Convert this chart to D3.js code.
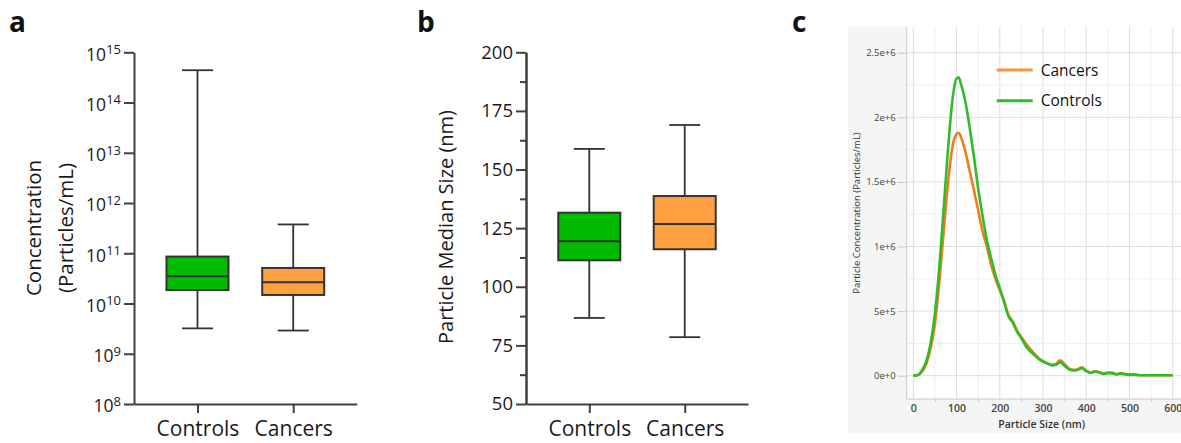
<!DOCTYPE html>
<html>
<head>
<meta charset="utf-8">
<script src="https://cdn.jsdelivr.net/npm/d3@7"></script>
<style>
  body { margin: 0; background: #fff; }
  svg { display: block; font-family: "Open Sans", sans-serif; }
</style>
</head>
<body>
<svg id="chart" width="1181" height="443"></svg>
<script>
// box plot data (a, b)
const groups = ["Controls", "Cancers"];
const concMin = [3.2e9, 2.9e9];
const concQ1 = [1.85e10, 1.48e10];
const concMed = [3.5e10, 2.65e10];
const concQ3 = [8.6e10, 5.1e10];
const concMax = [4.4e14, 3.75e11];
const concTicks = [1e8, 1e9, 1e10, 1e11, 1e12, 1e13, 1e14, 1e15];

const sizeMin = [86.7, 78.5];
const sizeQ1 = [111.3, 116];
const sizeMed = [119.4, 126.8];
const sizeQ3 = [131.6, 138.7];
const sizeMax = [158.8, 169];
const sizeTicks = [50, 75, 100, 125, 150, 175, 200];

// size distribution (c), concentration in millions of particles/mL
const nm = [0, 10, 20, 30, 40, 50, 60, 70, 80, 90, 100, 105, 110, 120, 130, 140, 150, 160, 170, 180,
  190, 200, 210, 220, 230, 240, 250, 260, 270, 280, 290, 300, 310, 320, 330, 340, 350, 360, 370, 380,
  390, 400, 410, 420, 430, 440, 450, 460, 470, 480, 490, 500, 510, 520, 550, 600];
const controlsDist = [0, 0.005, 0.04, 0.11, 0.25, 0.48, 0.83, 1.28, 1.74, 2.12, 2.30, 2.31, 2.26, 2.13, 1.93, 1.70, 1.45, 1.24, 1.05, 0.91,
  0.78, 0.68, 0.57, 0.46, 0.41, 0.34, 0.29, 0.23, 0.19, 0.16, 0.13, 0.11, 0.095, 0.08, 0.085, 0.105, 0.075, 0.05, 0.04, 0.045,
  0.058, 0.035, 0.022, 0.032, 0.025, 0.014, 0.02, 0.02, 0.01, 0.016, 0.01, 0.006, 0.006, 0.004, 0.003, 0.003];
const cancersDist = [0, 0.004, 0.03, 0.09, 0.21, 0.40, 0.72, 1.10, 1.48, 1.76, 1.87, 1.88, 1.85, 1.74, 1.59, 1.44, 1.28, 1.12, 1.00, 0.86,
  0.75, 0.66, 0.58, 0.47, 0.42, 0.35, 0.30, 0.25, 0.21, 0.17, 0.135, 0.11, 0.095, 0.085, 0.09, 0.12, 0.09, 0.055, 0.045, 0.05,
  0.065, 0.04, 0.025, 0.035, 0.028, 0.016, 0.025, 0.022, 0.012, 0.02, 0.013, 0.01, 0.012, 0.005, 0.003, 0.003];
const nmTicks = [0, 100, 200, 300, 400, 500, 600];
const distTicks = [0, 0.5, 1, 1.5, 2, 2.5];
const distTickLabels = ["0e+0", "5e+5", "1e+6", "1.5e+6", "2e+6", "2.5e+6"];

const boxFill = ["#00bb00", "#ffa040"];
const axisColor = "#404040";

let svg = d3.select("#chart");

function styleAxis(g) {
    g.select(".domain").attr("stroke", axisColor).attr("stroke-width", 2);
    g.selectAll(".tick line").attr("stroke", axisColor).attr("stroke-width", 2);
    g.selectAll(".tick text").attr("fill", "#1a1a1a").attr("font-family", "Open Sans");
}

function drawBoxes(x, y, mins, q1s, meds, q3s, maxs) {
    let g = svg.append("g");
    groups.forEach((name, i) => {
        let cx = x(name);
        g.append("line")
            .attr("x1", cx).attr("x2", cx)
            .attr("y1", y(mins[i])).attr("y2", y(maxs[i]))
            .attr("stroke", "#333").attr("stroke-width", 1.8);
        [mins[i], maxs[i]].forEach(v => {
            g.append("line")
                .attr("x1", cx - 15.5).attr("x2", cx + 15.5)
                .attr("y1", y(v)).attr("y2", y(v))
                .attr("stroke", "#333").attr("stroke-width", 1.8);
        });
        g.append("rect")
            .attr("x", cx - 31).attr("width", 62)
            .attr("y", y(q3s[i])).attr("height", y(q1s[i]) - y(q3s[i]))
            .attr("fill", boxFill[i])
            .attr("stroke", "#333").attr("stroke-width", 2);
        g.append("line")
            .attr("x1", cx - 31).attr("x2", cx + 31)
            .attr("y1", y(meds[i])).attr("y2", y(meds[i]))
            .attr("stroke", "#333").attr("stroke-width", 2);
    });
}

function panelLabel(text, x) {
    svg.append("text")
        .attr("x", x).attr("y", 32)
        .attr("font-size", 28).attr("font-weight", "bold")
        .attr("fill", "#111")
        .text(text);
}

// ---------- panel a ----------
let xA = d3.scalePoint().domain(groups).range([134, 356.7]).padding(0.663);
let yA = d3.scaleLog().domain([1e8, 1e15]).range([404, 52.3]);

svg.append("g")
    .attr("transform", "translate(134,0)")
    .call(d3.axisLeft(yA).tickValues(concTicks).tickFormat("").tickSize(10).tickPadding(3).tickSizeOuter(0))
    .call(styleAxis)
    .call(g => g.selectAll(".tick text").each(function (d) {
        let t = d3.select(this).attr("font-size", 17.5).attr("dy", "0.45em");
        t.append("tspan").text("10");
        t.append("tspan").attr("font-size", 13).attr("dy", "-0.5em")
            .text(Math.round(Math.log10(d)));
    }));

svg.append("g")
    .attr("transform", "translate(0,404)")
    .call(d3.axisBottom(xA).tickSize(9).tickPadding(8).tickSizeOuter(0))
    .call(styleAxis)
    .call(g => g.selectAll(".tick text").attr("font-size", 21));

drawBoxes(xA, yA, concMin, concQ1, concMed, concQ3, concMax);

svg.append("text")
    .attr("transform", "translate(41,228) rotate(-90)")
    .attr("text-anchor", "middle").attr("font-size", 20.5).attr("fill", "#1a1a1a")
    .text("Concentration");
svg.append("text")
    .attr("transform", "translate(73,228) rotate(-90)")
    .attr("text-anchor", "middle").attr("font-size", 20.5).attr("fill", "#1a1a1a")
    .text("(Particles/mL)");

panelLabel("a", 9);

// ---------- panel b ----------
let xB = d3.scalePoint().domain(groups).range([526, 748]).padding(0.663);
let yB = d3.scaleLinear().domain([50, 200]).range([404, 52.3]);

svg.append("g")
    .attr("transform", "translate(526,0)")
    .call(d3.axisLeft(yB).tickValues(d3.range(62.5, 200, 25)).tickFormat("").tickSize(6).tickSizeOuter(0))
    .call(styleAxis);

svg.append("g")
    .attr("transform", "translate(526,0)")
    .call(d3.axisLeft(yB).tickValues(sizeTicks).tickSize(10).tickPadding(3).tickSizeOuter(0))
    .call(styleAxis)
    .call(g => g.selectAll(".tick text").attr("font-size", 18.5));

svg.append("g")
    .attr("transform", "translate(0,404)")
    .call(d3.axisBottom(xB).tickSize(9).tickPadding(8).tickSizeOuter(0))
    .call(styleAxis)
    .call(g => g.selectAll(".tick text").attr("font-size", 21));

drawBoxes(xB, yB, sizeMin, sizeQ1, sizeMed, sizeQ3, sizeMax);

svg.append("text")
    .attr("transform", "translate(453,227) rotate(-90)")
    .attr("text-anchor", "middle").attr("font-size", 20).attr("fill", "#1a1a1a")
    .text("Particle Median Size (nm)");

panelLabel("b", 417);

// ---------- panel c ----------
svg.append("rect")
    .attr("x", 848).attr("y", 27).attr("width", 333).attr("height", 406)
    .attr("fill", "#f5f5f5");
svg.append("rect")
    .attr("x", 906.7).attr("y", 27).attr("width", 274.3).attr("height", 372)
    .attr("fill", "#fff");

let xC = d3.scaleLinear().domain([0, 600]).range([913.3, 1172.7]);
let yC = d3.scaleLinear().domain([0, 2.5]).range([375.7, 52.7]);

let grid = svg.append("g");
d3.range(0, 651, 50).forEach(v => {
    if (xC(v) > 1181) return;
    grid.append("line")
        .attr("x1", xC(v)).attr("x2", xC(v)).attr("y1", 27).attr("y2", 399)
        .attr("stroke", v % 100 === 0 ? "#dedede" : "#efefef").attr("stroke-width", 1);
});
d3.range(0, 2.76, 0.25).forEach(v => {
    if (yC(v) < 27) return;
    grid.append("line")
        .attr("x1", 906.7).attr("x2", 1181).attr("y1", yC(v)).attr("y2", yC(v))
        .attr("stroke", (Math.round(v * 100) % 50 === 0) ? "#dedede" : "#efefef").attr("stroke-width", 1);
});

function styleSmallAxis(g) {
    g.select(".domain").attr("stroke", "#c8c8c8").attr("stroke-width", 1);
    g.selectAll(".tick line").attr("stroke", "#c8c8c8");
    g.selectAll(".tick text").attr("fill", "#444").attr("font-family", "Open Sans").attr("font-size", 9.5);
}

svg.append("g")
    .attr("transform", "translate(906.7,0)")
    .call(d3.axisLeft(yC).tickValues(distTicks).tickFormat((d, i) => distTickLabels[i])
        .tickSize(9).tickPadding(2).tickSizeOuter(0))
    .call(g => g.select(".domain").attr("d", "M0,27V399"))
    .call(styleSmallAxis);

svg.append("g")
    .attr("transform", "translate(0,399)")
    .call(d3.axisBottom(xC).tickValues(d3.range(50, 600, 100)).tickFormat("").tickSize(3).tickSizeOuter(0))
    .call(g => g.select(".domain").remove())
    .call(styleSmallAxis);
svg.append("g")
    .attr("transform", "translate(0,399)")
    .call(d3.axisBottom(xC).tickValues(nmTicks).tickSize(0).tickPadding(6).tickSizeOuter(0))
    .call(g => g.select(".domain").attr("d", "M906.7,0H1181"))
    .call(styleSmallAxis)
    .call(g => g.selectAll(".tick text").attr("font-size", 10.5).attr("font-weight", 600).attr("fill", "#444"));

svg.append("text")
    .attr("x", 1041.7).attr("y", 428)
    .attr("text-anchor", "middle").attr("font-size", 10.5).attr("font-weight", 600).attr("fill", "#333")
    .text("Particle Size (nm)");
svg.append("text")
    .attr("transform", "translate(860,213) rotate(-90)")
    .attr("text-anchor", "middle").attr("font-size", 9.5).attr("fill", "#333")
    .text("Particle Concentration (Particles/mL)");

let valueLine = d3.line()
    .x((d, i) => xC(nm[i]))
    .y(d => yC(d))
    .curve(d3.curveMonotoneX);

svg.append("path")
    .datum(cancersDist)
    .attr("d", valueLine)
    .attr("fill", "none").attr("stroke", "#ef7d1e").attr("stroke-width", 2.6);
svg.append("path")
    .datum(controlsDist)
    .attr("d", valueLine)
    .attr("fill", "none").attr("stroke", "#2fbb2a").attr("stroke-width", 2.6);

// legend
const legendSeries = ["Cancers", "Controls"];
const legendColors = ["#f5963c", "#2fbb2a"];
legendSeries.forEach((name, i) => {
    let ly = 70 + i * 30.7;
    svg.append("line")
        .attr("x1", 996.7).attr("x2", 1032.7).attr("y1", ly).attr("y2", ly)
        .attr("stroke", legendColors[i]).attr("stroke-width", 3);
    svg.append("text")
        .attr("x", 1040.7).attr("y", ly + 5.5)
        .attr("font-size", 15.5).attr("fill", "#111")
        .text(name);
});

panelLabel("c", 792);
</script>
</body>
</html>
